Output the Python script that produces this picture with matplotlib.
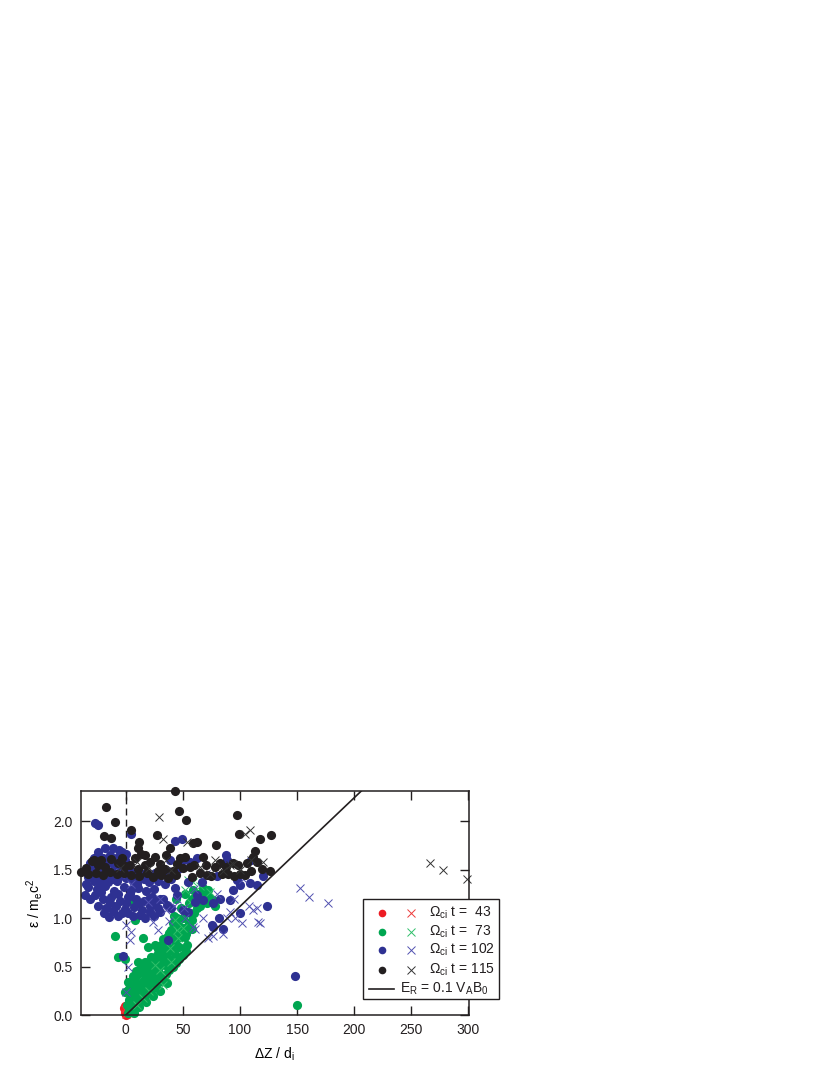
import matplotlib
matplotlib.use("Agg")
import matplotlib.pyplot as plt
from matplotlib.patches import Rectangle
from matplotlib.lines import Line2D

plt.rcParams['font.family'] = ['Liberation Sans', 'DejaVu Sans']
plt.rcParams['mathtext.fontset'] = 'custom'
plt.rcParams['mathtext.rm'] = 'Liberation Sans'
plt.rcParams['mathtext.it'] = 'Liberation Sans:italic'
plt.rcParams['mathtext.bf'] = 'Liberation Sans:bold'

# ---------------- data ----------------
times = [43, 73, 102, 115]
er_slope = 0.0112  # E_R = 0.1 V_A B_0 reference line slope

red_circles = [(-1, 0.02), (0, 0.0), (0.5, 0.05), (-0.5, 0.09), (1, 0.01), (0, 0.04), (-1.5, 0.07)]
red_crosses = [(0, 0.01), (1, 0.03), (-1, 0.06), (2, 0.02)]

green_circles = [
    (2, 0.02), (4, 0.05), (6, 0.07), (8, 0.1), (10, 0.12), (12, 0.14), (14, 0.16), (17, 0.2),
    (20, 0.23), (23, 0.27), (26, 0.3), (29, 0.34), (32, 0.38), (35, 0.42), (38, 0.46), (41, 0.5),
    (44, 0.54), (47, 0.58), (50, 0.62), (53, 0.66), (7, 0.02), (12, 0.08), (18, 0.13), (24, 0.2),
    (1, 0.1), (3, 0.15), (5, 0.2), (2, 0.26), (6, 0.3), (9, 0.25), (12, 0.3), (8, 0.38), (11, 0.42),
    (15, 0.35), (18, 0.4), (14, 0.48), (20, 0.45), (17, 0.55), (22, 0.52), (25, 0.45), (24, 0.58),
    (27, 0.62), (29, 0.5), (31, 0.56), (33, 0.65), (35, 0.6), (37, 0.7), (40, 0.67), (42, 0.78),
    (44, 0.73), (46, 0.84), (48, 0.8), (51, 0.9), (53, 0.84), (55, 0.95), (58, 0.98), (60, 1.05),
    (62, 1.1), (65, 1.12), (68, 1.18), (70, 1.25), (72, 1.29), (68, 1.31), (59, 1.29), (52, 1.25),
    (76, 1.19), (78, 1.12), (45, 1.0), (42, 1.02), (48, 1.1), (44, 1.2), (55, 1.15), (40, 0.88),
    (36, 0.8), (15, 0.79), (19.5, 0.7), (25.4, 0.72), (10.8, 0.55), (13.7, 0.48), (35.5, 0.62),
    (-0.9, 0.58), (-6.7, 0.6), (-9.6, 0.81), (7.8, 0.98), (4.9, 1.18), (2, 0.34), (-0.9, 0.24),
    (3.5, 0.14), (50.5, 0.89), (57.8, 0.89), (52, 0.8), (53.4, 0.72), (30, 0.25), (36, 0.33),
    (3, 0.05), (5, 0.1), (7, 0.14), (9, 0.18), (4, 0.25), (7, 0.22), (10, 0.32), (13, 0.22),
    (16, 0.27), (19, 0.32), (21, 0.38), (23, 0.35), (26, 0.4), (28, 0.45), (16, 0.45), (19, 0.52),
    (22, 0.6), (25, 0.55), (28, 0.68), (31, 0.72), (34, 0.52), (38, 0.58), (30, 0.62), (33, 0.78),
    (38, 0.85), (41, 0.95), (47, 0.92), (50, 1.0), (52, 1.05), (56, 1.05), (58, 1.2), (63, 1.25),
    (66, 1.22), (71, 1.15), (73, 1.22), (47, 0.7), (43, 0.63), (9, 0.45), (6, 0.4),
    (150, 0.10),
]
green_crosses = [
    (54.8, 1.39), (52, 1.29), (43.2, 0.98), (44.6, 0.88), (38.8, 0.69), (30, 0.46), (25.4, 0.52),
    (32.7, 0.31), (45.8, 0.79), (59.1, 1.37), (73.8, 1.27), (56.3, 1.17), (65, 1.33), (62, 1.2),
    (20, 0.25), (15, 0.18), (10, 0.1), (40, 0.55), (35, 0.4), (50, 0.9),
]

blue_circles = [
    (-26.9, 1.98), (-24, 1.96), (4.6, 1.87), (43, 1.79), (49, 1.82),
    (-24, 1.68), (-18, 1.72), (-10.9, 1.72), (-3.5, 1.68), (-28, 1.62), (-20, 1.62), (-14, 1.65),
    (-7, 1.63), (-1, 1.6), (-31, 1.57), (-16, 1.58),
    (-34, 1.5), (-27, 1.52), (-12, 1.48), (-4, 1.5), (8, 1.47), (15, 1.45),
    (-30, 1.42), (-22, 1.4), (-15, 1.43), (-8, 1.38), (0, 1.41), (6, 1.38), (12, 1.4), (20, 1.37),
    (-33, 1.32), (-25, 1.3), (-18, 1.33), (-10, 1.28), (-2, 1.32), (5, 1.29), (11, 1.31), (18, 1.28),
    (25, 1.3), (-36, 1.24), (-27, 1.24), (-20, 1.2), (-13, 1.22), (-5, 1.18), (2, 1.22), (9, 1.2),
    (16, 1.18), (23, 1.22), (30, 1.2), (-24, 1.12), (-17, 1.1), (-9, 1.12), (-1, 1.09), (7, 1.11),
    (14, 1.08), (21, 1.12), (28, 1.1), (36, 1.13), (40, 1.1), (-15, 1.01), (-6.5, 1.02), (2.3, 1.05),
    (12.5, 1.03), (21.3, 1.06), (30, 1.06),
    (-29, 1.47), (-23, 1.35), (-16, 1.37), (-11, 1.4), (-5, 1.43), (3, 1.45), (10, 1.35), (16, 1.4),
    (22, 1.43), (-31, 1.2), (-22, 1.27), (-14, 1.15), (-7, 1.25), (0, 1.15), (4, 1.25), (12, 1.15),
    (20, 1.2), (26, 1.15), (33, 1.2), (-19, 1.05), (-11, 1.07), (-3, 1.05), (6, 1.02), (17, 1.0),
    (25, 1.02), (-35, 1.35), (-28, 1.38), (-33, 1.42), (-25, 1.6), (-10, 1.55), (-6, 1.7), (0, 1.66),
    (2, 1.52), (-19, 1.5),
    (25.4, 1.46), (31.2, 1.44), (37, 1.48), (45.8, 1.51), (38.8, 1.6), (50.5, 1.6), (62.2, 1.62),
    (56.3, 1.58), (47.5, 1.53), (54.8, 1.37), (66.5, 1.37), (44.6, 1.24), (43.2, 1.31), (62, 1.24),
    (68, 1.19), (76.7, 1.15), (82.6, 1.2), (91.3, 1.19), (94, 1.29), (100, 1.34), (97, 1.39),
    (79.7, 1.43), (87.8, 1.65), (88.3, 1.6), (110, 1.6), (120.5, 1.43), (108.8, 1.36), (114.7, 1.34),
    (123.5, 1.12), (100, 1.05), (82, 1.0), (75.3, 0.93), (85.5, 0.89), (76.7, 0.91), (50.5, 1.08),
    (54.8, 1.06), (60.7, 1.17), (37.3, 0.77), (-2.4, 0.61), (34, 1.35), (40, 1.4), (28, 1.38),
    (148, 0.40),
]
blue_crosses = [
    (91.3, 1.06), (95.7, 1.0), (101.6, 0.95), (111.7, 1.08), (116, 0.96), (76.7, 0.81), (72.3, 0.79),
    (85.5, 0.84), (68, 1.0), (60.7, 0.89), (52, 1.0), (152.7, 1.31), (160.8, 1.22), (177.4, 1.15),
    (0.5, 0.93), (4.9, 0.86), (23.9, 0.96), (28.3, 0.88), (2, 0.50), (0.5, 0.24), (19.5, 1.17),
    (3.8, 0.77), (35, 1.08), (42, 1.12), (51, 1.1), (45, 1.2), (59, 0.91), (88.4, 1.0), (114.7, 1.1),
    (117.6, 0.95), (38, 0.97), (30, 1.2), (5, 1.35), (-5, 1.45), (60, 1.3), (80, 1.25), (95, 1.2),
    (108, 1.12), (70, 1.45), (103, 1.4),
]

black_circles = [
    (-17.5, 2.14), (-9.1, 1.99), (43.4, 2.31), (46.7, 2.10), (53, 2.01), (97.2, 2.06), (99.5, 1.87),
    (117.6, 1.82), (127, 1.86), (4.9, 1.91), (27.4, 1.86), (-19.3, 1.85), (-12.6, 1.83), (11.6, 1.78),
    (10.8, 1.72), (38.5, 1.72), (59, 1.77), (62.6, 1.78), (79, 1.75), (113, 1.69), (111.7, 1.63),
    (-28, 1.6), (-39.5, 1.47), (-35, 1.52), (-30, 1.59), (-24.2, 1.55), (-18.4, 1.53), (-12.6, 1.61),
    (-6.7, 1.57), (-0.9, 1.54), (3.5, 1.55), (10.8, 1.51), (16.6, 1.55), (21, 1.58), (28.3, 1.49),
    (34, 1.51), (41.4, 1.49), (25.4, 1.63), (35.5, 1.65), (12.9, 1.66), (16.6, 1.65), (8.5, 1.62),
    (47.5, 1.62), (52, 1.63), (68, 1.63), (50, 1.52), (56, 1.53), (65, 1.46), (71, 1.44), (75, 1.43),
    (78, 1.53), (82.6, 1.57), (88, 1.53), (94, 1.57), (98, 1.55), (106, 1.57), (114.7, 1.58),
    (119, 1.51), (126, 1.49), (89.5, 1.45), (95, 1.43), (100, 1.45), (104, 1.44),
    (-33, 1.45), (-26, 1.46), (-20, 1.44), (-14, 1.47), (-8, 1.45), (-2, 1.46), (5, 1.44), (12, 1.43),
    (19, 1.46), (24, 1.42), (31, 1.44), (37, 1.41), (44, 1.44), (58, 1.42), (84, 1.45), (110, 1.48),
    (-22, 1.6), (-3, 1.62), (30, 1.56), (45, 1.56), (60, 1.55), (70, 1.55),
]
black_crosses = [
    (28.9, 2.04), (108.8, 1.91), (104.5, 1.87), (53.4, 1.78), (33, 1.82), (78.2, 1.6), (110, 1.6),
    (120.5, 1.58), (91.3, 1.55), (73.8, 1.45), (65, 1.53), (94.2, 1.56), (20, 1.52), (35, 1.6),
    (40, 1.5), (10, 1.58), (-5, 1.52), (85, 1.48), (100, 1.5),
    (266.6, 1.57), (277.6, 1.50), (298.6, 1.40),
]

circle_colors = ['#ed1c24', '#00a651', '#2e3192', '#231f20']
cross_colors = ['#ee3a3a', '#2fbf6a', '#5050b0', '#333333']

series = [
    (red_circles, red_crosses),
    (green_circles, green_crosses),
    (blue_circles, blue_crosses),
    (black_circles, black_crosses),
]

# ---------------- figure ----------------
fig = plt.figure(figsize=(8.3, 10.75), dpi=100)
ax = fig.add_axes([0.0972, 0.0558, 0.4678, 0.2084])

ms_c = 6.6
ms_x = 6.2
for i in [3, 2, 1, 0]:
    circ, crs = series[i]
    ax.plot([p[0] for p in circ], [p[1] for p in circ], 'o', ms=ms_c, mec='none',
            color=circle_colors[i], clip_on=False, zorder=2 + i * 0.1)
    ax.plot([p[0] for p in crs], [p[1] for p in crs], 'x', ms=ms_x, mew=0.7,
            color=cross_colors[i], clip_on=False, zorder=2.05 + i * 0.1)

# reference line E_R = 0.1 V_A B_0
xl = [0, 300]
ax.plot(xl, [er_slope * v for v in xl], '-', color='#231f20', lw=1.2, zorder=3)
# dashed vertical at zero
ax.axvline(0, color='#231f20', lw=1.0, ls=(0, (5, 3)), zorder=1.5)

ax.set_xlim(-39.5, 300.5)
ax.set_ylim(0, 2.31)
ax.set_xticks([0, 50, 100, 150, 200, 250, 300])
ax.set_yticks([0.0, 0.5, 1.0, 1.5, 2.0])
ax.set_yticklabels(['0.0', '0.5', '1.0', '1.5', '2.0'])
ax.tick_params(direction='in', length=6.5, width=1.0, top=True, right=True,
               labelsize=10, colors='#231f20', pad=6)
for s in ax.spines.values():
    s.set_linewidth(1.1)
    s.set_color('#231f20')

ax.set_xlabel(r'ΔZ / d$_{\mathrm{i}}$', fontsize=10, labelpad=6)
ax.set_ylabel(r'ε / m$_{\mathrm{e}}$c$^{\mathrm{2}}$', fontsize=10, labelpad=6)

# ---------------- legend (manual) ----------------
tr = ax.transAxes
ax.add_patch(Rectangle((0.728, 0.070), 0.350, 0.446, transform=tr, fill=True,
                       facecolor='white', edgecolor='#231f20', lw=1.0,
                       clip_on=False, zorder=10))
row_y = [0.457, 0.372, 0.289, 0.202]
labels = [r'$\Omega_{\mathrm{ci}}$ t =  %d' % t if t < 100 else r'$\Omega_{\mathrm{ci}}$ t = %d' % t
          for t in times]
for i in range(4):
    ax.plot([0.775], [row_y[i]], 'o', ms=5.5, mec='none', color=circle_colors[i],
            transform=tr, clip_on=False, zorder=11)
    ax.plot([0.852], [row_y[i]], 'x', ms=ms_x, mew=0.7, color=cross_colors[i],
            transform=tr, clip_on=False, zorder=11)
    ax.text(0.897, row_y[i], labels[i], transform=tr, fontsize=10, va='center',
            ha='left', zorder=12, color='#231f20')
ax.add_line(Line2D([0.742, 0.807], [0.117, 0.117], transform=tr, color='#231f20',
                   lw=1.2, clip_on=False, zorder=11))
ax.text(0.822, 0.117, r'E$_{\mathrm{R}}$ = 0.1 V$_{\mathrm{A}}$B$_{\mathrm{0}}$', transform=tr,
        fontsize=10, va='center', ha='left', zorder=12, color='#231f20')

fig.savefig('out.png', dpi=100)
